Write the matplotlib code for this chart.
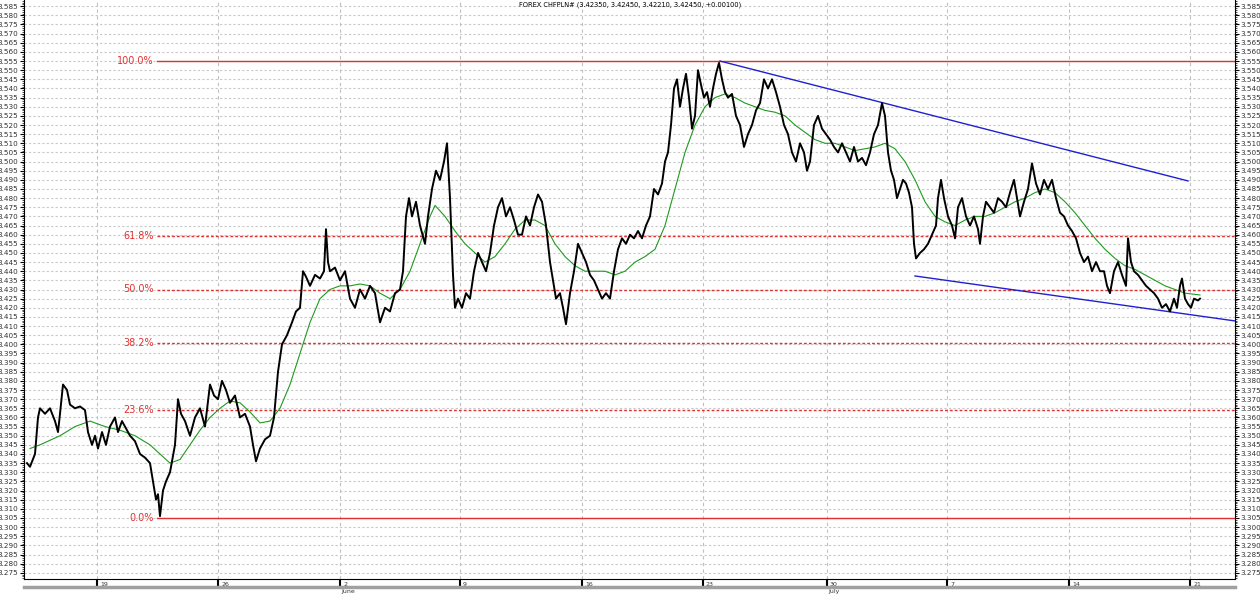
import numpy as np
import matplotlib
matplotlib.use("Agg")
import matplotlib.pyplot as plt
from matplotlib.lines import Line2D
from matplotlib.ticker import MultipleLocator

title = "FOREX CHFPLN# (3.42350, 3.42450, 3.42210, 3.42450, +0.00100)"

# hourly bar index and close price (CHF/PLN)
price_hours = [2, 5, 10, 13, 15, 20, 25, 30, 33, 35, 38, 42, 45, 50, 55, 60, 63, 67, 70, 73,
               77, 81, 85, 90, 93, 97, 101, 105, 110, 115, 120, 125, 128, 131, 133, 135, 138, 141, 145, 150,
               153, 156, 160, 165, 170, 175, 180, 185, 189, 193, 197, 201, 205, 210, 215, 220, 225, 228, 231, 235,
               240, 245, 249, 253, 257, 262, 267, 271, 275, 278, 281, 285, 290, 295, 299, 301, 303, 305, 310, 315,
               320, 325, 330, 335, 340, 345, 350, 355, 360, 365, 370, 375, 378, 381, 384, 387, 391, 395, 400, 403,
               407, 411, 415, 419, 422, 425, 428, 430, 433, 437, 441, 445, 449, 453, 457, 461, 465, 469, 473, 477,
               481, 485, 489, 493, 497, 501, 505, 509, 513, 517, 521, 525, 528, 531, 535, 538, 541, 545, 549, 553,
               557, 561, 565, 569, 573, 577, 581, 585, 589, 593, 597, 601, 605, 609, 613, 617, 621, 625, 629, 633,
               637, 640, 643, 646, 649, 652, 655, 658, 661, 664, 667, 670, 673, 676, 679, 682, 685, 688, 691, 694,
               697, 700, 703, 707, 711, 715, 719, 723, 727, 731, 735, 739, 743, 747, 751, 755, 759, 763, 767, 771,
               775, 779, 782, 785, 789, 793, 797, 801, 805, 809, 813, 817, 821, 825, 829, 833, 837, 841, 845, 849,
               853, 857, 860, 863, 866, 869, 872, 875, 878, 881, 884, 887, 889, 891, 895, 899, 903, 907, 911, 913,
               916, 919, 923, 927, 930, 933, 937, 941, 945, 949, 953, 955, 958, 961, 965, 969, 973, 977, 981, 985,
               989, 992, 995, 999, 1003, 1007, 1011, 1015, 1019, 1023, 1027, 1031, 1035, 1039, 1043, 1047, 1051, 1055, 1059, 1063,
               1067, 1071, 1075, 1079, 1082, 1085, 1089, 1093, 1097, 1101, 1103, 1106, 1109, 1113, 1117, 1121, 1125, 1129, 1133, 1137,
               1141, 1145, 1149, 1152, 1155, 1157, 1160, 1163, 1166, 1169, 1173, 1175]
price_close = [3.335, 3.333, 3.340, 3.360, 3.365, 3.362, 3.365, 3.358, 3.352, 3.362, 3.378, 3.375, 3.367, 3.365, 3.366, 3.364, 3.352, 3.345, 3.350, 3.343,
               3.352, 3.345, 3.355, 3.360, 3.352, 3.358, 3.354, 3.350, 3.347, 3.340, 3.338, 3.335, 3.325, 3.315, 3.318, 3.306, 3.320, 3.325, 3.330, 3.345,
               3.370, 3.362, 3.358, 3.350, 3.360, 3.365, 3.355, 3.378, 3.372, 3.370, 3.380, 3.375, 3.368, 3.372, 3.360, 3.362, 3.355, 3.345, 3.336, 3.343,
               3.348, 3.350, 3.360, 3.385, 3.400, 3.405, 3.412, 3.418, 3.420, 3.440, 3.437, 3.432, 3.438, 3.436, 3.440, 3.463, 3.445, 3.440, 3.442, 3.435,
               3.440, 3.425, 3.420, 3.430, 3.425, 3.432, 3.428, 3.412, 3.420, 3.418, 3.428, 3.430, 3.440, 3.470, 3.480, 3.470, 3.478, 3.465, 3.455, 3.470,
               3.485, 3.495, 3.490, 3.500, 3.510, 3.480, 3.438, 3.420, 3.425, 3.420, 3.428, 3.425, 3.440, 3.450, 3.445, 3.440, 3.450, 3.465, 3.475, 3.480,
               3.470, 3.475, 3.468, 3.460, 3.460, 3.470, 3.465, 3.475, 3.482, 3.478, 3.465, 3.445, 3.435, 3.425, 3.428, 3.420, 3.411, 3.428, 3.440, 3.455,
               3.450, 3.445, 3.438, 3.435, 3.430, 3.425, 3.428, 3.425, 3.440, 3.452, 3.458, 3.455, 3.460, 3.458, 3.462, 3.458, 3.465, 3.470, 3.485, 3.482,
               3.488, 3.500, 3.505, 3.520, 3.540, 3.545, 3.530, 3.540, 3.548, 3.535, 3.518, 3.525, 3.550, 3.542, 3.535, 3.538, 3.530, 3.540, 3.548, 3.554,
               3.545, 3.538, 3.535, 3.537, 3.525, 3.520, 3.508, 3.515, 3.520, 3.528, 3.532, 3.545, 3.540, 3.545, 3.538, 3.530, 3.520, 3.515, 3.505, 3.500,
               3.510, 3.505, 3.495, 3.500, 3.520, 3.525, 3.518, 3.515, 3.512, 3.508, 3.505, 3.510, 3.505, 3.500, 3.508, 3.500, 3.502, 3.498, 3.505, 3.515,
               3.520, 3.532, 3.525, 3.505, 3.495, 3.490, 3.480, 3.485, 3.490, 3.488, 3.483, 3.475, 3.455, 3.447, 3.450, 3.452, 3.455, 3.460, 3.465, 3.480,
               3.490, 3.480, 3.470, 3.465, 3.458, 3.475, 3.480, 3.470, 3.465, 3.470, 3.463, 3.455, 3.470, 3.478, 3.475, 3.472, 3.480, 3.478, 3.475, 3.483,
               3.490, 3.480, 3.470, 3.478, 3.485, 3.499, 3.488, 3.482, 3.490, 3.485, 3.490, 3.480, 3.472, 3.470, 3.465, 3.462, 3.458, 3.450, 3.445, 3.448,
               3.440, 3.445, 3.440, 3.440, 3.432, 3.428, 3.440, 3.445, 3.438, 3.432, 3.458, 3.445, 3.440, 3.438, 3.435, 3.432, 3.430, 3.428, 3.425, 3.420,
               3.422, 3.418, 3.425, 3.420, 3.432, 3.436, 3.425, 3.422, 3.420, 3.425, 3.424, 3.425]

# moving average (green)
ma_hours = [5, 15, 35, 50, 65, 80, 95, 110, 125, 135, 145, 155, 165, 175, 185, 195, 205, 215, 225, 235,
            245, 255, 265, 275, 285, 295, 305, 315, 325, 335, 345, 355, 365, 375, 385, 395, 405, 410, 420, 430,
            440, 450, 460, 470, 480, 490, 500, 510, 520, 530, 540, 550, 560, 570, 580, 590, 600, 610, 620, 630,
            640, 650, 660, 670, 680, 690, 700, 710, 720, 730, 740, 750, 760, 770, 780, 790, 800, 810, 820, 830,
            840, 850, 860, 870, 880, 890, 900, 910, 920, 930, 940, 950, 960, 970, 980, 990, 1000, 1010, 1020, 1030,
            1040, 1050, 1060, 1070, 1080, 1090, 1100, 1110, 1120, 1130, 1140, 1150, 1160, 1175]
ma_values = [3.343, 3.345, 3.350, 3.355, 3.358, 3.355, 3.353, 3.350, 3.345, 3.340, 3.335, 3.337, 3.345, 3.353, 3.360, 3.365, 3.369, 3.368, 3.363, 3.357,
             3.358, 3.365, 3.378, 3.395, 3.412, 3.425, 3.430, 3.432, 3.432, 3.433, 3.432, 3.428, 3.425, 3.430, 3.440, 3.455, 3.470, 3.476, 3.470, 3.462,
             3.455, 3.450, 3.445, 3.448, 3.455, 3.463, 3.468, 3.468, 3.465, 3.455, 3.448, 3.443, 3.440, 3.440, 3.440, 3.438, 3.440, 3.445, 3.448, 3.452,
             3.465, 3.485, 3.505, 3.520, 3.530, 3.535, 3.537, 3.535, 3.532, 3.530, 3.528, 3.527, 3.525, 3.520, 3.516, 3.512, 3.510, 3.510, 3.508, 3.506,
             3.507, 3.508, 3.510, 3.507, 3.500, 3.490, 3.478, 3.470, 3.467, 3.465, 3.468, 3.470, 3.470, 3.472, 3.475, 3.478, 3.480, 3.483, 3.485, 3.483,
             3.478, 3.472, 3.465, 3.458, 3.452, 3.447, 3.443, 3.441, 3.438, 3.435, 3.432, 3.430, 3.428, 3.427]

# Fibonacci retracement
fib_low = 3.305
fib_high = 3.555
fib_start = 132
fib_levels = [0.0, 0.236, 0.382, 0.5, 0.618, 1.0]
fib_labels = ["0.0%", "23.6%", "38.2%", "50.0%", "61.8%", "100.0%"]

# trend channel (hour, price)
upper_channel_h = [695, 1163]
upper_channel_p = [3.555, 3.4894]
lower_channel_h = [890, 1210]
lower_channel_p = [3.4374, 3.4128]

# x axis labels
week_ticks = [72, 193, 315, 435, 557, 678, 802, 922, 1044, 1165]
week_labels = ["19", "26", "2", "9", "16", "23", "30", "7", "14", "21"]
month_ticks = [315, 802]
month_labels = ["June", "July"]

fig = plt.figure(figsize=(12.6, 5.95), dpi=100)
ax = fig.add_axes([24 / 1260, 16 / 595, (1235 - 24) / 1260, 579 / 595])

xmin, xmax = -1, 1210
ymin, ymax = 3.2716, 3.5884
ax.set_xlim(xmin, xmax)
ax.set_ylim(ymin, ymax)

# grid
ax.yaxis.set_minor_locator(MultipleLocator(0.001))
for yv in np.arange(3.275, 3.5851, 0.005):
    ax.axhline(yv, color="#c8c8c8", lw=0.8, ls=(0, (2, 2)), zorder=0)
for xv in week_ticks:
    ax.axvline(xv, color="#c0c0c0", lw=0.8, ls=(0, (3, 3)), zorder=0)

# fibonacci
for lvl, lab in zip(fib_levels, fib_labels):
    yv = fib_low + (fib_high - fib_low) * lvl
    ls = "-" if lvl in (0.0, 1.0) else (0, (2, 1.5))
    ax.plot([fib_start, xmax], [yv, yv], color="#e03030", lw=1.0, ls=ls, zorder=2)
    ax.text(fib_start - 3, yv, lab, color="#e03030", fontsize=7, ha="right", va="center", zorder=3)

# channel
ax.plot(upper_channel_h, upper_channel_p, color="#2020d0", lw=1.0, zorder=3)
ax.plot(lower_channel_h, lower_channel_p, color="#2020d0", lw=1.0, zorder=3)

# MA + price
ax.plot(ma_hours, ma_values, color="#1e9a1e", lw=0.8, zorder=4)
ax.plot(price_hours, price_close, color="black", lw=1.4, zorder=5)

ax.text(605, 3.5878, title, fontsize=4.8, ha="center", va="top", zorder=6)

# axes styling
ax.spines["top"].set_visible(False)
ax.set_yticks(np.round(np.arange(3.275, 3.5851, 0.005), 3))
ax.yaxis.set_major_formatter(matplotlib.ticker.FuncFormatter(lambda v, p: f"{v:.3f}"))
ax.tick_params(axis="y", which="major", labelsize=5.2, length=3, width=0.8, direction="out",
               left=True, right=True, labelleft=True, labelright=True, pad=1, labelcolor="#333333")
ax.tick_params(axis="y", which="minor", length=1.5, width=0.5, left=True, right=True)

ax.set_xticks(week_ticks)
ax.set_xticklabels([])
ax.tick_params(axis="x", which="major", length=6, width=1.5, direction="out", pad=0)
for xv, lab in zip(week_ticks, week_labels):
    ax.text(xv + 3, ymin - 0.0015, lab, fontsize=4.5, ha="left", va="top", clip_on=False, color="#333333")
for xv, lab in zip(month_ticks, month_labels):
    ax.text(xv + 1, ymin - 0.0055, lab, fontsize=4.5, ha="left", va="top", clip_on=False, color="#333333")

# gray baseline strip under the axis
fig.add_artist(Line2D([24 / 1260, 1235 / 1260], [1 - 587 / 595, 1 - 587 / 595],
                      color="#a0a0a0", lw=2.5))

fig.savefig("out.png", dpi=100)
